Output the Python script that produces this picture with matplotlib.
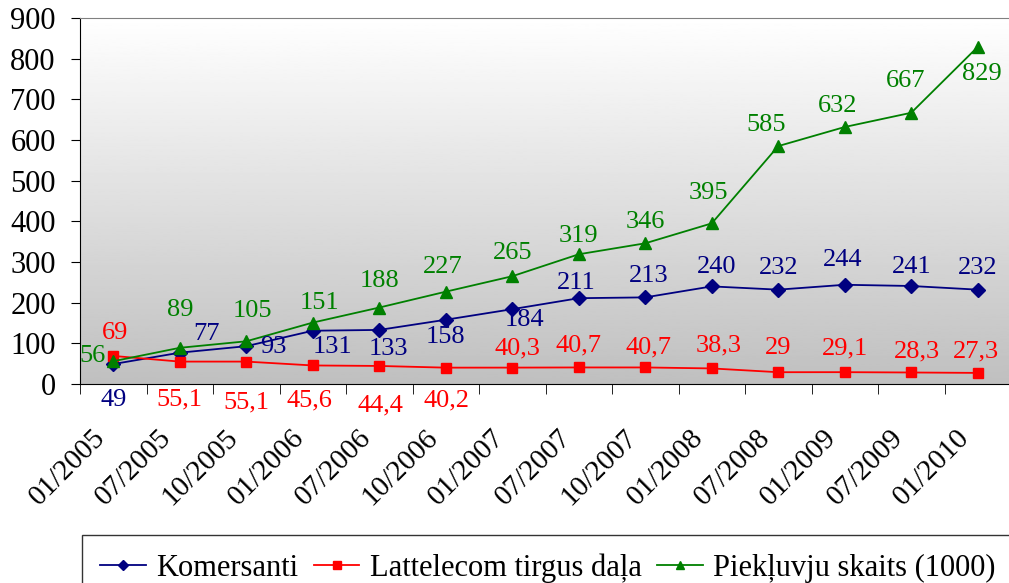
import numpy as np
import matplotlib.pyplot as plt
import matplotlib.transforms as mtransforms

plt.rcParams["font.family"] = ["Liberation Serif", "DejaVu Serif"]

periods = ["01/2005", "07/2005", "10/2005", "01/2006", "07/2006", "10/2006",
           "01/2007", "07/2007", "10/2007", "01/2008", "07/2008", "01/2009",
           "07/2009", "01/2010"]
komersanti = [49, 77, 93, 131, 133, 158, 184, 211, 213, 240, 232, 244, 241, 232]
lattelecom = [69, 55.1, 55.1, 45.6, 44.4, 40.2, 40.3, 40.7, 40.7, 38.3, 29, 29.1, 28.3, 27.3]
piekluvji = [56, 89, 105, 151, 188, 227, 265, 319, 346, 395, 585, 632, 667, 829]

# label offsets in pixels (dx, dy up)
off_k = [(0, -36), (27, 19), (27, -1), (20, -16), (9, -19), (0, -17), (12, -11),
         (-3, 15), (3, 21), (5, 19), (0, 22), (-2, 25), (0, 19), (0, 22)]
off_l = [(2, 23), (0, -38), (0, -41), (-3, -35), (1, -40), (1, -33), (5, 19),
         (0, 22), (3, 20), (7, 23), (0, 24), (0, 24), (6, 21), (-2, 21)]
off_p = [(-21, 5), (0, 38), (6, 30), (7, 20), (0, 27), (-3, 25), (0, 23),
         (0, 18), (0, 21), (-3, 30), (-12, 21), (-7, 21), (-6, 32), (4, -27)]

W, H = 1009, 583
fig = plt.figure(figsize=(W / 100, H / 100), dpi=100)
ax = fig.add_axes([80 / W, (H - 384) / H, (1011 - 80) / W, (384 - 18) / H])

x = np.arange(len(periods))
ax.set_xlim(-0.5, len(periods) - 0.5)

# gradient background
grad = np.linspace(0.75, 1.0, 256).reshape(-1, 1)
ax.imshow(grad, cmap="gray", vmin=0, vmax=1, aspect="auto",
          extent=(-0.5, len(periods) - 0.5, 900, 0), zorder=0)
ax.set_ylim(0, 900)

series = [
    ("Komersanti", komersanti, "#000080", "D", 7, off_k),
    ("Lattelecom tirgus daļa", lattelecom, "#ff0000", "s", 7, off_l),
    ("Piekļuvju skaits (1000)", piekluvji, "#008000", "^", 8, off_p),
]
for name, vals, col, mk, ms, offs in series:
    ax.plot(x, vals, color=col, marker=mk, markersize=ms, lw=1.3, label=name,
            zorder=3)
    for xi, v, (dx, dy) in zip(x, vals, offs):
        txt = f"{v:g}".replace(".", ",")
        ax.annotate(txt, (xi, v), xytext=(dx * 0.72, dy * 0.72),
                    textcoords="offset points", ha="center", va="center",
                    color=col, fontsize=19, annotation_clip=False, zorder=4)

ax.spines["right"].set_visible(False)
ax.spines["top"].set_color("#808080")
ax.spines["left"].set_color("black")
ax.spines["bottom"].set_color("black")

ax.set_yticks(range(0, 901, 100))
ax.tick_params(axis="y", labelsize=22, length=6.5, direction="out", pad=11)

ax.set_xticks(x)
ax.set_xticks(np.arange(-0.5, len(periods) - 0.5, 1), minor=True)
ax.tick_params(axis="x", which="major", length=0, pad=36)
ax.tick_params(axis="x", which="minor", length=7, direction="out")
ax.set_xticklabels(periods, rotation=45, ha="right", va="center",
                   rotation_mode="anchor", fontsize=21)
shift = mtransforms.ScaledTranslation(-12 / 100, 0, fig.dpi_scale_trans)
for lab in ax.get_xticklabels():
    lab.set_transform(lab.get_transform() + shift)

leg = fig.legend(loc="upper left", bbox_to_anchor=(82 / W, 1 - 535 / H),
                 ncol=3, fontsize=22, frameon=True, fancybox=False,
                 handlelength=1.5, handletextpad=0.33, columnspacing=0.5,
                 borderaxespad=0, borderpad=0.6, markerscale=0.8)
leg.get_frame().set_edgecolor("black")
leg.get_frame().set_linewidth(1.0)

fig.savefig("out.png", dpi=100)
